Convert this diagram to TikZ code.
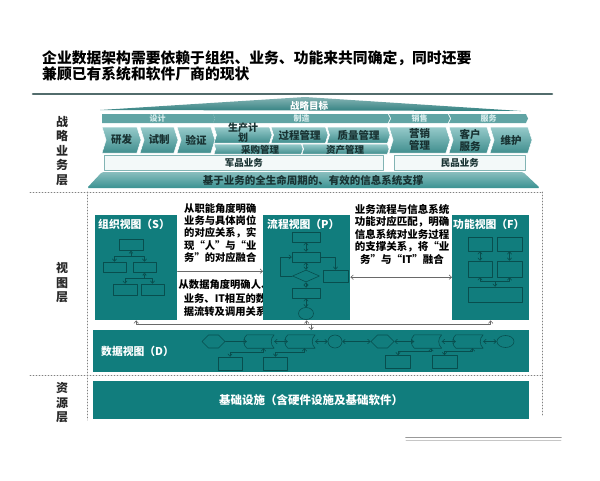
\documentclass[tikz,border=0pt]{standalone}
\usepackage{fontspec}
\setmainfont{Noto Sans CJK SC}
\usetikzlibrary{arrows.meta,shapes.geometric,shapes.symbols,shapes.misc,calc}

\definecolor{tealbox}{RGB}{17,125,125}
\definecolor{tealink}{RGB}{8,78,78}
\definecolor{tealmid}{RGB}{64,142,142}
\definecolor{teallite}{RGB}{150,202,202}
\definecolor{tealroof}{RGB}{52,130,130}
\definecolor{tealband}{RGB}{96,164,164}
\definecolor{bandtext}{RGB}{215,236,236}
\definecolor{tealtrap}{RGB}{58,146,146}
\definecolor{chevtext}{RGB}{24,50,50}
\definecolor{paleteal}{RGB}{243,249,249}
\definecolor{bizline}{RGB}{130,180,180}
\definecolor{slateline}{RGB}{82,108,108}
\definecolor{arrowgray}{RGB}{105,105,105}
\definecolor{layertext}{RGB}{40,40,40}

\newcommand{\stored}[3]{%
  \node[dnode,minimum width=27,minimum height=13] (#1) at (#2,#3) {};
  \draw[sk] (#1.north west) to[bend right=50] (#1.south west) -- (#1.south east)
    to[bend left=50] (#1.north east) -- cycle;}

\tikzset{
  tri/.tip={Triangle[open,length=3pt,width=4pt]},
  sk/.style={draw=tealink,line width=0.6pt},
  skbox/.style={sk,rectangle,inner sep=0pt},
  dnode/.style={inner sep=0pt,draw=none,rectangle},
  chev/.style={signal,signal to=east,signal from=west,signal pointer angle=145,inner sep=0pt,
    top color=teallite,bottom color=tealmid,draw=white,line width=0.5pt,text=chevtext,
    font=\fontsize{10.5}{12}\selectfont\bfseries,align=center},
  chevlabel/.style={inner sep=0pt,text=chevtext,align=center,font=\fontsize{10}{10}\selectfont\bfseries},
  band/.style={signal,signal to=east,signal from=west,signal pointer angle=130,inner sep=0pt,
    fill=tealband,minimum height=9pt,text=bandtext,font=\fontsize{8}{9}\selectfont\bfseries},
  bizbox/.style={draw=bizline,fill=paleteal,line width=0.6pt,inner sep=0pt,anchor=north west,
    minimum height=15pt,text=chevtext,font=\fontsize{9.5}{11}\selectfont\bfseries},
  viewbox/.style={fill=tealbox,inner sep=0pt,anchor=north west},
  viewtitle/.style={text=white,inner sep=0pt,anchor=north west,font=\fontsize{10.8}{12}\selectfont\bfseries},
  note/.style={inner sep=0pt,text=black,font=\fontsize{10.3}{12.3}\selectfont\bfseries},
  layer/.style={inner sep=0pt,align=center,text=layertext,font=\fontsize{12}{14.5}\selectfont\bfseries},
  garrow/.style={draw=arrowgray,line width=0.6pt},
  sepline/.style={draw=gray,line width=0.8pt,dash pattern=on 1pt off 2pt},
}

\begin{document}
\begin{tikzpicture}[x=1pt,y=1pt,line cap=round,line join=round,>={Straight Barb[length=2.5pt,width=4.5pt]}]
\useasboundingbox (0,0) rectangle (600,-480);
% title
\node[anchor=west,inner sep=0pt,font=\fontsize{14.8}{16}\selectfont\bfseries] (title1) at (42,-58) {企业数据架构需要依赖于组织、业务、功能来共同确定，同时还要};
\node[anchor=west,inner sep=0pt,font=\fontsize{14.8}{16}\selectfont\bfseries] (title2) at (42,-74) {兼顾已有系统和软件厂商的现状};
\draw[line width=2.6pt,slateline] (33,-94) -- (552,-94);
% strategy layer
\shade[top color=tealroof!60!white,bottom color=tealroof] (100,-110) -- (305,-97) -- (521,-111) -- cycle;
\node[inner sep=0pt,text=white,font=\fontsize{9.5}{11}\selectfont\bfseries] (goal) at (309,-106) {战略目标};
\node[band,minimum width=113,signal from=nowhere] (bdesign) at (157.5,-118.5) {设计};
\node[band,minimum width=177] (bmake) at (301.5,-118.5) {制造};
\node[band,minimum width=61] (bsell) at (419.5,-118.5) {销售};
\node[band,minimum width=79] (bserv) at (488.5,-118.5) {服务};
\node[chev,minimum width=39,minimum height=26] (yanfa) at (121.5,-140) {研发};
\node[chev,minimum width=38,minimum height=26] (shizhi) at (159,-140) {试制};
\node[chev,minimum width=38,minimum height=26] (yanzheng) at (196,-140) {验证};
\node[chev,minimum width=58,minimum height=16] (jihua) at (243,-135) {};
\node[chev,minimum width=57,minimum height=16] (guocheng) at (299.5,-135) {过程管理};
\node[chev,minimum width=63,minimum height=16] (zhiliang) at (358.5,-135) {质量管理};
\node[chev,minimum width=89,minimum height=10] (caigou) at (258.5,-149) {};
\node[chev,minimum width=87,minimum height=10] (zichan) at (345.5,-149) {};
\node[chev,minimum width=61,minimum height=26] (yingxiao) at (419.5,-140) {营销\\管理};
\node[chev,minimum width=42,minimum height=26] (kehu) at (470,-140) {客户\\服务};
\node[chev,minimum width=42,minimum height=26] (weihu) at (511,-140) {维护};
\node[chevlabel] (jihuatext) at (243,-133) {生产计\\划};
\node[chevlabel,font=\fontsize{9.5}{10}\selectfont\bfseries] (caigoutext) at (260,-150) {采购管理};
\node[chevlabel,font=\fontsize{9.5}{10}\selectfont\bfseries] (zichantext) at (345,-150) {资产管理};
\node[bizbox,minimum width=279] (junpin) at (104,-155) {军品业务};
\node[bizbox,minimum width=131] (minpin) at (394,-155) {民品业务};
\shade[top color=tealtrap!60!white,bottom color=tealtrap,rounded corners=1.5] (102,-172) -- (523,-172) -- (540,-188) -- (87,-188) -- cycle;
\node[inner sep=0pt,text=chevtext,font=\fontsize{10.5}{12}\selectfont\bfseries] (support) at (313,-180.5) {基于业务的全生命周期的、有效的信息系统支撑};
% layers
\node[layer] (lystrat) at (62,-151) {战\\略\\业\\务\\层};
\node[layer] (lyview) at (62,-283) {视\\图\\层};
\node[layer] (lyres) at (62,-403) {资\\源\\层};
\draw[sepline] (30,-192) -- (542,-192);
\draw[sepline] (30,-375) -- (542,-375);
\draw[sepline] (87,-192) -- (87,-420);
\draw[sepline] (542,-192) -- (542,-415);
% view layer
\node[note,anchor=north west,align=left] (txtS) at (184,-203) {从职能角度明确\\业务与具体岗位\\的对应关系，实\\现“人”与“业\\务”的对应融合};
\node[note,align=center,font=\fontsize{10.3}{13.5}\selectfont\bfseries] (txtD) at (225,-298.5) {从数据角度明确人、\\业务、IT相互的数\\据流转及调用关系};
\node[note,align=center,font=\fontsize{10.5}{12.5}\selectfont\bfseries] (txtP) at (402,-234) {业务流程与信息系统\\功能对应匹配，明确\\信息系统对业务过程\\的支撑关系，将“业\\务”与“IT”融合};
\node[viewbox,minimum width=82,minimum height=105] (S) at (95,-215) {};
\node[viewbox,minimum width=87,minimum height=105] (P) at (263,-215) {};
\node[viewbox,minimum width=77,minimum height=105] (F) at (452,-215) {};
\node[viewtitle] (Stitle) at (98,-219) {组织视图（S）};
\node[viewtitle] (Ptitle) at (267,-219) {流程视图（P）};
\node[viewtitle] (Ftitle) at (453,-219) {功能视图（F）};
% org chart
\node[skbox,minimum width=24,minimum height=11] (s1) at (131,-244.5) {};
\node[skbox,minimum width=23,minimum height=10] (s2) at (114.5,-267) {};
\node[skbox,minimum width=23,minimum height=10] (s3) at (144.5,-267) {};
\node[skbox,minimum width=24,minimum height=11] (s4) at (125,-289.5) {};
\node[skbox,minimum width=23,minimum height=11] (s5) at (152.5,-289.5) {};
\coordinate (sj1) at ($(s1.south)+(0,-6)$);
\coordinate (sj2) at ($(s3.south)+(0,-6)$);
\draw[sk,-tri] (sj1) -- (s1.south);
\draw[sk,->] (sj1) -| (s2.north);
\draw[sk,->] (sj1) -| (s3.north);
\draw[sk,-tri] (sj2) -- (s3.south);
\draw[sk,->] (sj2) -| (s4.north);
\draw[sk,->] (sj2) -| (s5.north);
% process chart
\node[skbox,minimum width=28,minimum height=10] (p1) at (306,-237) {};
\node[skbox,minimum width=28,minimum height=10] (p2) at (306,-257) {};
\node[sk,diamond,inner sep=0pt,minimum width=27,minimum height=12] (p3) at (306,-276) {};
\node[skbox,minimum width=25,minimum height=12] (p4) at (335.5,-276) {};
\node[skbox,minimum width=28,minimum height=10] (p5) at (306,-293) {};
\node[sk,ellipse,inner sep=0pt,minimum width=15,minimum height=12] (p6) at (306,-313.5) {};
\draw[sk,<->] (p1) -- (p2);
\draw[sk,<->] (p2) -- (p3);
\draw[sk,<->] (p3) -- (p5);
\draw[sk,<->] (p5) -- (p6);
\draw[sk,->] (p2.east) -| (p4.north);
\draw[sk,->] (p3.west) -- ++(-12,0) |- (p2.west);
% function chart
\node[skbox,minimum width=24,minimum height=14] (f1) at (480,-244) {};
\node[skbox,minimum width=25,minimum height=14] (f2) at (509.5,-244) {};
\node[skbox,minimum width=24,minimum height=16] (f3) at (480,-269) {};
\node[skbox,minimum width=25,minimum height=16] (f4) at (509.5,-269) {};
\node[skbox,minimum width=54,minimum height=15] (f5) at (495,-294.5) {};
\coordinate (fj) at ($(f5.north)+(0,5)$);
\draw[sk,<->] (f1) -- (f3);
\draw[sk,<->] (f2) -- (f4);
\draw[sk,->] (fj) -- (f5.north);
\draw[sk,->] (fj) -| (f3.south);
\draw[sk,->] (fj) -| (f4.south);
% data view
\node[viewbox,minimum width=436,minimum height=42] (D) at (93,-330) {};
\node[viewtitle,anchor=west] (Dtitle) at (101,-351) {数据视图（D）};
\node[sk,signal,signal to=east and west,inner sep=0pt,minimum width=23,minimum height=13] (dh1) at (213.5,-341.5) {};
\stored{ds1}{260.5}{-341.5}
\stored{ds2}{301.5}{-341.5}
\node[sk,ellipse,inner sep=0pt,minimum width=14,minimum height=13] (dc1) at (335,-341.5) {};
\node[sk,signal,signal to=east and west,inner sep=0pt,minimum width=23,minimum height=13] (dh2) at (382.5,-341.5) {};
\stored{ds3}{428}{-341.5}
\stored{ds4}{469.5}{-341.5}
\node[sk,ellipse,inner sep=0pt,minimum width=17,minimum height=12] (dc2) at (505.5,-341.5) {};
\node[sk,chamfered rectangle,chamfered rectangle corners=north west,inner sep=0pt,minimum width=24,minimum height=13] (da) at (230,-363.5) {};
\node[sk,chamfered rectangle,chamfered rectangle corners=north west,inner sep=0pt,minimum width=24,minimum height=13] (db) at (275.5,-363.5) {};
\node[sk,chamfered rectangle,chamfered rectangle corners=north west,inner sep=0pt,minimum width=25,minimum height=13] (dcx) at (398,-362) {};
\node[sk,chamfered rectangle,chamfered rectangle corners=north west,inner sep=0pt,minimum width=25,minimum height=13] (dd) at (444.5,-362) {};
\draw[sk,->] (dh1) -- (ds1);
\draw[sk,<->] (ds1) -- (ds2);
\draw[sk,<->] (ds2) -- (dc1);
\draw[sk,<->] (dc1) -- (dh2);
\draw[sk,<->] (dh2) -- (ds3);
\draw[sk,<->] (ds3) -- (ds4);
\draw[sk,<->] (ds4) -- (dc2);
\draw[sk,<->] (da.north) -- ++(0,4) -| ([xshift=3]ds1.south);
\draw[sk,<->] (db.north) -- ++(0,4) -| ([xshift=3]ds2.south);
\draw[sk,<->] (dcx.north) -- ++(0,4) -| ([xshift=3]ds3.south);
\draw[sk,<->] (dd.north) -- ++(0,4) -| ([xshift=3]ds4.south);
% view connectors
\coordinate (bus) at ([yshift=6]D.north);
\draw[garrow,->] ([yshift=-3.5]S.east) -- ([yshift=-3.5]P.west);
\draw[garrow,<->] ([yshift=-9.5]P.east) -- ([yshift=-9.5]F.west);
\draw[garrow,->] (bus) -- (D.north);
\draw[garrow,->] (bus) -| (S.south);
\draw[garrow,->] (bus) -| (P.south);
\draw[garrow,->] (bus) -| (F.south);
% resource layer
\node[viewbox,minimum width=436,minimum height=38,text=white,font=\fontsize{11.5}{13}\selectfont\bfseries] (base) at (93,-381) {基础设施（含硬件设施及基础软件）};
\draw[line width=1.6pt,gray!80] (406,-437.5) -- (561,-437.5);
\draw[line width=0.8pt,gray!45] (406,-440.5) -- (561,-440.5);
\end{tikzpicture}
\end{document}
